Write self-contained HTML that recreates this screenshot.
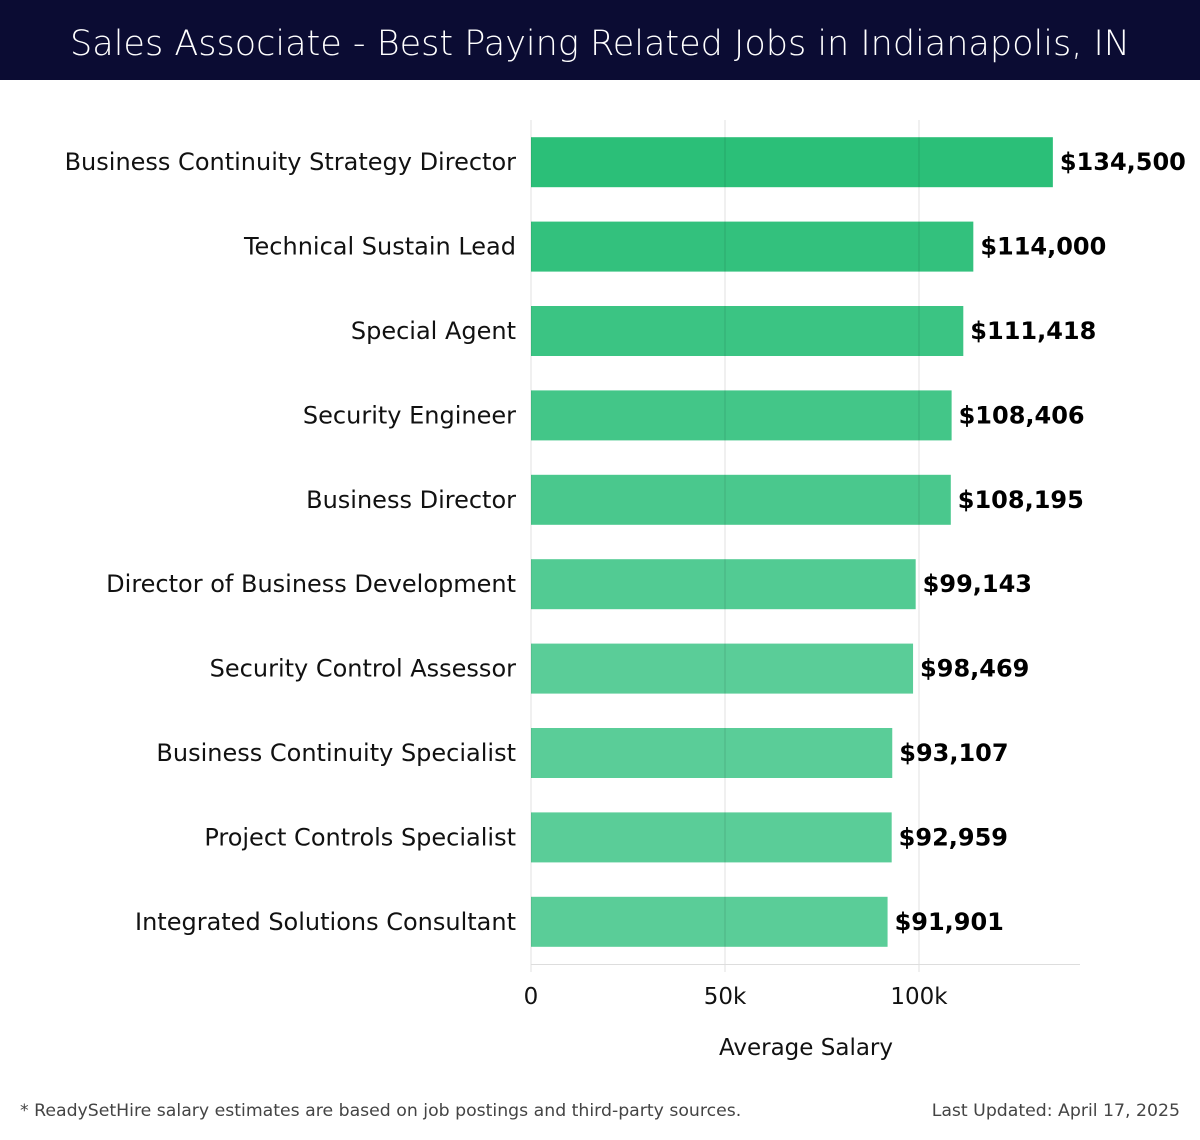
<!DOCTYPE html>
<html><head><meta charset="utf-8"><style>
body{margin:0;width:1200px;height:1140px;background:#fff;font-family:"DejaVu Sans","Liberation Sans",sans-serif;overflow:hidden}
#title{position:absolute;left:0;top:0;width:1200px;height:80px;background:#0b0c33;color:#fff;font-size:35px;line-height:88px;text-align:center;font-family:"DejaVu Sans","Liberation Sans",sans-serif;font-weight:300}
.foot{position:absolute;top:1101px;font-size:17.3px;color:#444}
</style></head><body>
<div id="title">Sales Associate - Best Paying Related Jobs in Indianapolis, IN</div>
<svg id="chart" width="1200" height="1140" style="position:absolute;left:0;top:0"></svg>
<div class="foot" style="left:20px">* ReadySetHire salary estimates are based on job postings and third-party sources.</div>
<div class="foot" style="right:20px">Last Updated: April 17, 2025</div>
<script>
const categories=["Business Continuity Strategy Director","Technical Sustain Lead","Special Agent","Security Engineer","Business Director","Director of Business Development","Security Control Assessor","Business Continuity Specialist","Project Controls Specialist","Integrated Solutions Consultant"];
const values=[134500,114000,111418,108406,108195,99143,98469,93107,92959,91901];
const tickValues=[0,50000,100000];
const tickLabels=["0","50k","100k"];
const NS="http://www.w3.org/2000/svg";
const svg=document.getElementById('chart');
const x0=531,pxPerUnit=388/100000,top0=120,band=84.4,barH=50;
const xs=v=>x0+v*pxPerUnit;
const yc=i=>top0+band*i+band/2;
function mk(t,a){const e=document.createElementNS(NS,t);for(const k in a)e.setAttribute(k,a[k]);svg.appendChild(e);return e;}
const c1=[43,191,120],c2=[90,205,152];
categories.forEach((c,i)=>{
  const f=Math.min(1,i/6);
  const col=`rgb(${c1.map((v,j)=>Math.round(v+(c2[j]-v)*f)).join(',')})`;
  const r=mk('rect',{x:x0,y:yc(i)-barH/2,width:xs(values[i])-x0,height:barH,fill:col});
  
  
  const l=mk('text',{x:516,y:yc(i)+8,'text-anchor':'end','font-size':24,fill:'#111'});
  l.textContent=c;
  
  
  const v=mk('text',{x:xs(values[i])+7,y:yc(i)+8,'font-size':24,'font-weight':'bold',fill:'#000'});
  v.textContent='$'+values[i].toLocaleString('en-US');
  
  
});
tickValues.forEach((t,i)=>{
  const g=mk('line',{x1:xs(t),x2:xs(t),y1:top0,y2:972,stroke:'#000','stroke-opacity':0.12,'stroke-width':1});
  
  
  const tx=mk('text',{x:xs(t),y:1004,'text-anchor':'middle','font-size':23,fill:'#111'});
  tx.textContent=tickLabels[i];
  
  
});
const ax=mk('line',{x1:x0,x2:1080,y1:964.5,y2:964.5,stroke:'#ddd','stroke-width':1});


const at=mk('text',{x:806,y:1055,'text-anchor':'middle','font-size':23,fill:'#111'});
at.textContent='Average Salary';


</script>
</body></html>
